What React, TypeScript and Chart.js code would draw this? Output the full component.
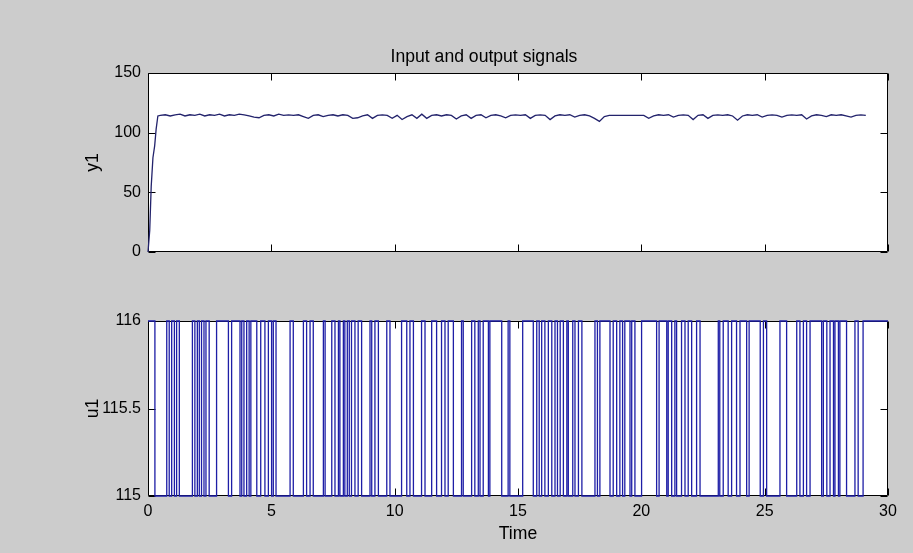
import React, { useEffect, useRef } from 'react';
import { Chart, registerables } from 'chart.js';

Chart.register(...registerables);

// ---------------- data ----------------
const titleText = 'Input and output signals';
const xLabel = 'Time';
const y1Label = 'y1';
const u1Label = 'u1';

const xTicks = [0, 5, 10, 15, 20, 25, 30];
const y1Ticks = [0, 50, 100, 150];
const u1Ticks = [115, 115.5, 116];

// initial rise of y1
const y1RiseTimes = [0, 0.07, 0.13, 0.2, 0.27, 0.33, 0.4];
const y1RiseValues = [0, 18, 55, 79, 89, 103, 114];

// steady part of y1, sampled every 0.2 s from t = 0.5
const y1SteadyStart = 0.5;
const y1SteadyStep = 0.2;
const y1SteadyValues = [
  114.5, 115, 114, 115, 115.5, 114, 115, 114.5, 115.5, 114,
  115, 114.5, 115.5, 114, 115, 114.5, 115.5, 115, 114, 113,
  112.5, 114.5, 115, 114, 115.5, 114.5, 115, 114.5, 115, 113.5,
  112, 114.5, 115, 113.5, 114.5, 115, 114, 115, 114.5, 112,
  112.5, 114, 115, 112, 114.5, 115, 114.5, 112, 114.5, 111,
  113.5, 115, 112, 115.5, 112, 114.5, 115, 114, 115, 114.5,
  111.5, 114, 115, 112, 114.5, 115, 112.5, 114.5, 115, 114,
  112.5, 114.5, 115, 114.5, 115, 112, 114.5, 115, 114.5, 111,
  114, 115, 114.5, 115, 113, 114.5, 115, 114, 112, 109.5,
  113.5, 114.5, 114.5, 114.5, 114.5, 114.5, 114.5, 114.5, 114.5, 112,
  114, 115, 114.5, 115, 113, 114.5, 115, 114.5, 111, 114.5,
  115, 112, 114.5, 115, 114.5, 115, 114, 110.5, 114, 115,
  114.5, 115, 113, 114.5, 115, 114.5, 113, 114.5, 115, 114.5,
  115, 111.5, 114, 115, 114.5, 113.5, 115, 114.5, 115, 114,
  113, 114.5, 115, 114.5,
];

// u1: binary input, level changes at these times
const u1Low = 115;
const u1High = 116;
const u1Start = 116;
const u1EndTime = 30;
const u1SwitchTimes = [
  0.28,
  0.76, 0.86, 0.96, 1.07, 1.16, 1.27,
  1.8,
  1.9, 2.0, 2.08, 2.17, 2.27, 2.35, 2.48,
  2.78,
  3.26, 3.39,
  3.73, 3.8, 3.89, 4.0, 4.1, 4.17,
  4.41, 4.57, 4.74, 4.88, 5.01, 5.08, 5.19,
  5.76, 5.89,
  6.3, 6.43, 6.57, 6.7,
  7.11, 7.18,
  7.45, 7.58, 7.72, 7.78, 7.92, 7.98, 8.08, 8.16, 8.25, 8.39, 8.52, 8.66,
  9.0, 9.07, 9.2, 9.34,
  9.68, 9.81,
  10.28,
  10.49, 10.62, 10.76,
  11.09, 11.23, 11.5, 11.7, 11.9, 12.04, 12.17,
  12.38, 12.71, 12.78,
  13.12, 13.25, 13.39, 13.46, 13.59, 13.8, 13.86,
  14.34, 14.6, 14.67,
  15.19,
  15.62, 15.76, 15.86, 15.96, 16.09, 16.23, 16.37, 16.5, 16.6, 16.71, 16.84, 16.98, 17.04, 17.22, 17.31, 17.45, 17.59,
  18.12, 18.22, 18.32,
  18.73, 18.86, 19.0, 19.13, 19.24, 19.33, 19.54, 19.61, 19.74,
  20.01,
  20.62, 20.72, 21.03, 21.09, 21.23, 21.36, 21.43, 21.63, 21.77, 21.9, 22.04, 22.24, 22.38,
  23.12, 23.18, 23.32, 23.52, 23.66, 23.86, 24.0, 24.27, 24.37,
  24.82, 24.95, 25.08,
  25.62, 25.89,
  26.3, 26.43, 26.57, 26.7, 26.84,
  27.31, 27.38, 27.52, 27.65, 27.79, 27.85, 27.99, 28.05,
  28.32, 28.66, 28.79, 28.99,
];

// ---------------- helpers ----------------
function buildY1() {
  const pts: { x: number; y: number }[] = [];
  y1RiseTimes.forEach((t, i) => pts.push({ x: t, y: y1RiseValues[i] }));
  y1SteadyValues.forEach((v, i) => pts.push({ x: y1SteadyStart + i * y1SteadyStep, y: v }));
  return pts;
}

function buildU1() {
  const pts: { x: number; y: number }[] = [{ x: 0, y: u1Start }];
  let state = u1Start;
  u1SwitchTimes.forEach((t) => {
    state = state === u1High ? u1Low : u1High;
    pts.push({ x: t, y: state });
  });
  pts.push({ x: u1EndTime, y: state });
  return pts;
}

const FONT = '"Liberation Sans", Arial, Helvetica, sans-serif';
const TICK_LEN = 7;
const TICK_FONT = 16;
const LABEL_FONT = 17.6;

const plainNumber = (v: any) => String(Number(v));

const framePlugin = {
  id: 'matlabFrame',
  beforeDraw(chart: any) {
    const { ctx, chartArea: a } = chart;
    ctx.save();
    ctx.fillStyle = '#ffffff';
    ctx.fillRect(a.left, a.top, a.right - a.left, a.bottom - a.top);
    ctx.restore();
  },
  beforeDatasetsDraw(chart: any) {
    const { ctx, chartArea: a } = chart;
    const xs = chart.scales.x;
    const ys = chart.scales.y;
    const yt: number[] = chart.options.plugins.matlabFrame.yTicks;
    ctx.save();
    ctx.strokeStyle = '#000000';
    ctx.lineWidth = 1;
    const L = Math.round(a.left) + 0.5;
    const R = Math.round(a.right) - 0.5;
    const T = Math.round(a.top) + 0.5;
    const B = Math.round(a.bottom) - 0.5;
    ctx.beginPath();
    ctx.rect(L, T, R - L, B - T);
    xTicks.forEach((v) => {
      const px = Math.round(xs.getPixelForValue(v)) + 0.5;
      ctx.moveTo(px, B);
      ctx.lineTo(px, B - TICK_LEN);
      ctx.moveTo(px, T);
      ctx.lineTo(px, T + TICK_LEN);
    });
    yt.forEach((v) => {
      const py = Math.round(ys.getPixelForValue(v)) + 0.5;
      ctx.moveTo(L, py);
      ctx.lineTo(L + TICK_LEN, py);
      ctx.moveTo(R, py);
      ctx.lineTo(R - TICK_LEN, py);
    });
    ctx.stroke();
    ctx.restore();
  },
};

Chart.defaults.font.family = FONT;
Chart.defaults.font.size = TICK_FONT;
Chart.defaults.color = '#000000';

function makeTop(canvas: HTMLCanvasElement) {
  return new Chart(canvas, {
    type: 'line',
    data: {
      datasets: [
        {
          data: buildY1(),
          borderColor: '#23236c',
          borderWidth: 1.3,
          pointRadius: 0,
          tension: 0,
          fill: false,
          clip: 4,
        },
      ],
    },
    options: {
      animation: false,
      responsive: false,
      events: [],
      layout: { padding: { top: 30, left: 80, right: 25, bottom: 0 } },
      plugins: {
        legend: { display: false },
        tooltip: { enabled: false },
        title: {
          display: true,
          text: titleText,
          font: { family: FONT, size: LABEL_FONT, weight: 'normal' },
          color: '#000000',
          padding: { top: 16.4, bottom: 5.5 },
        },
        matlabFrame: { yTicks: y1Ticks },
      } as any,
      scales: {
        x: {
          type: 'linear',
          min: 0,
          max: 30,
          ticks: { display: false, stepSize: 5 },
          grid: { display: false, drawTicks: false },
          border: { display: false },
          afterFit: (s: any) => {
            s.height = 18;
          },
        },
        y: {
          type: 'linear',
          min: 0,
          max: 150,
          ticks: { stepSize: 50, padding: 7, font: { size: TICK_FONT }, callback: plainNumber },
          grid: { display: false, drawTicks: false },
          border: { display: false },
          title: { display: true, text: y1Label, font: { size: LABEL_FONT }, padding: { top: 3, bottom: 4 } },
          afterFit: (s: any) => {
            s.width = 68;
          },
        },
      },
    },
    plugins: [framePlugin],
  });
}

function makeBottom(canvas: HTMLCanvasElement) {
  return new Chart(canvas, {
    type: 'line',
    data: {
      datasets: [
        {
          data: buildU1(),
          borderColor: '#1e1ea6',
          borderWidth: 1.3,
          pointRadius: 0,
          stepped: true,
          fill: false,
          clip: 4,
        },
      ],
    },
    options: {
      animation: false,
      responsive: false,
      events: [],
      layout: { padding: { top: 41, left: 80, right: 25, bottom: 0 } },
      plugins: {
        legend: { display: false },
        tooltip: { enabled: false },
        title: { display: false },
        matlabFrame: { yTicks: u1Ticks },
      } as any,
      scales: {
        x: {
          type: 'linear',
          min: 0,
          max: 30,
          ticks: { stepSize: 5, padding: 6, font: { size: TICK_FONT }, maxRotation: 0, callback: plainNumber },
          grid: { display: false, drawTicks: false },
          border: { display: false },
          title: { display: true, text: xLabel, font: { size: LABEL_FONT }, padding: { top: 4, bottom: 8 } },
          afterFit: (s: any) => {
            s.height = 57;
          },
        },
        y: {
          type: 'linear',
          min: 115,
          max: 116,
          ticks: { stepSize: 0.5, padding: 7, font: { size: TICK_FONT }, callback: plainNumber },
          grid: { display: false, drawTicks: false },
          border: { display: false },
          title: { display: true, text: u1Label, font: { size: LABEL_FONT }, padding: { top: 3, bottom: 4 } },
          afterFit: (s: any) => {
            s.width = 68;
          },
        },
      },
    },
    plugins: [framePlugin],
  });
}

export default function App() {
  const topRef = useRef<HTMLCanvasElement>(null);
  const botRef = useRef<HTMLCanvasElement>(null);

  useEffect(() => {
    const c1 = makeTop(topRef.current!);
    const c2 = makeBottom(botRef.current!);
    return () => {
      c1.destroy();
      c2.destroy();
    };
  }, []);

  return (
    <div
      style={{
        position: 'fixed',
        left: 0,
        top: 0,
        width: 913,
        height: 553,
        background: '#cccccc',
        overflow: 'hidden',
      }}
    >
      <canvas
        ref={topRef}
        width={913}
        height={270}
        style={{ position: 'absolute', left: 0, top: 0, width: 913, height: 270 }}
      />
      <canvas
        ref={botRef}
        width={913}
        height={273}
        style={{ position: 'absolute', left: 0, top: 280, width: 913, height: 273 }}
      />
    </div>
  );
}
